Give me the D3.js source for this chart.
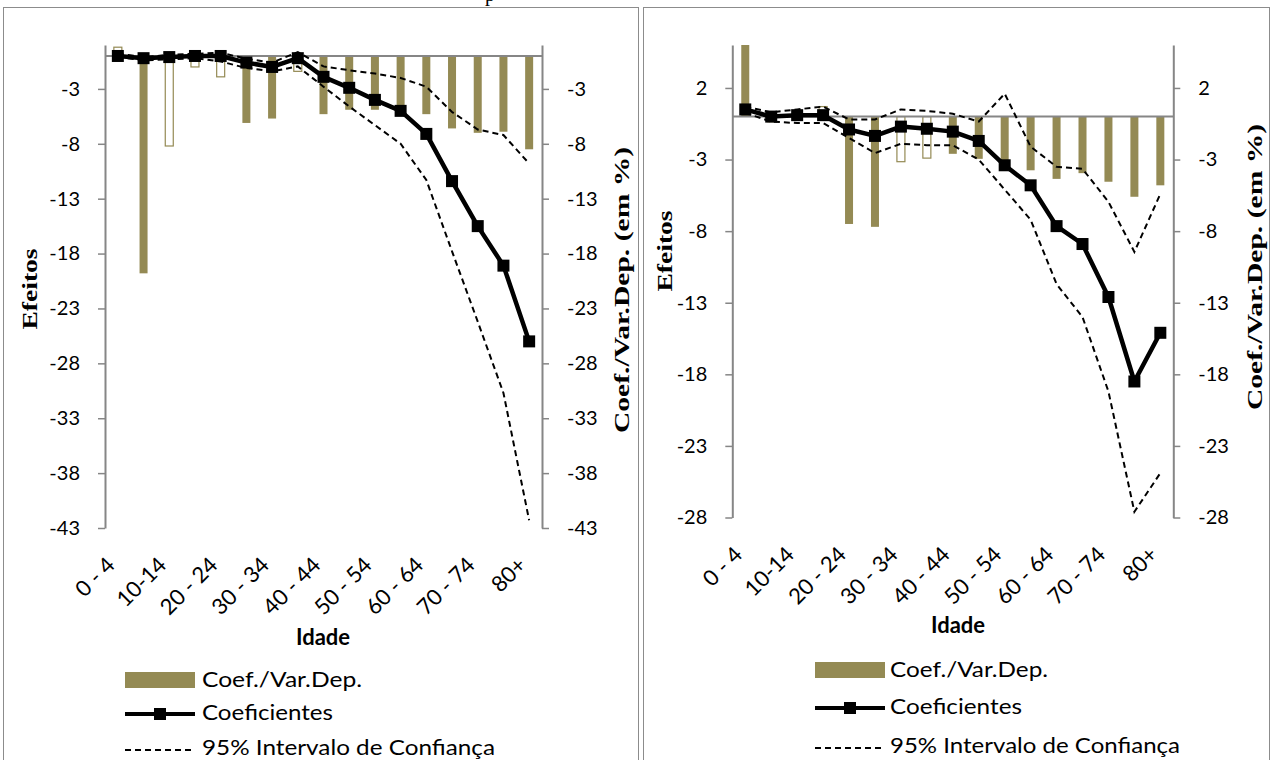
<!DOCTYPE html>
<html><head><meta charset="utf-8">
<script src="https://cdn.jsdelivr.net/npm/d3@7"></script>
<style>body{margin:0;background:#fff} svg{display:block}</style>
</head><body>
<svg id="chart" width="1273" height="760"></svg>
<script>
// Age groups (every other label is shown on the axis)
const ageGroups = ["0 - 4","5 - 9","10-14","15 - 19","20 - 24","25 - 29","30 - 34","35 - 39","40 - 44","45 - 49","50 - 54","55 - 59","60 - 64","65 - 69","70 - 74","75 - 79","80+"];
const ticksA = [-43,-38,-33,-28,-23,-18,-13,-8,-3];
const ticksB = [-28,-23,-18,-13,-8,-3,2];

// Panel A
const ratioA  = [0.8,-19.8,-8.2,-1.0,-1.9,-6.1,-5.7,-1.4,-5.3,-4.9,-4.9,-5.1,-5.3,-6.6,-7.0,-6.9,-8.5];
const sigA    = [false,true,false,false,false,true,true,false,true,true,true,true,true,true,true,true,true];
const coefA   = [0.0,-0.2,-0.1,0.0,0.0,-0.6,-1.0,-0.2,-1.9,-2.9,-4.0,-5.0,-7.1,-11.4,-15.5,-19.1,-26.0];
const upperA  = [0.2,-0.1,0.1,0.2,0.3,-0.25,-0.6,0.35,-0.95,-1.3,-1.6,-2.0,-2.8,-5.1,-6.7,-7.2,-9.8];
const lowerA  = [-0.1,-0.4,-0.3,-0.2,-0.5,-1.1,-1.4,-0.95,-2.8,-4.6,-6.3,-8.0,-11.3,-17.8,-24.2,-30.7,-42.3];

// Panel B
const ratioB  = [7.0,-0.4,-0.3,0.7,-7.5,-7.7,-3.15,-2.9,-2.6,-2.95,-3.5,-3.75,-4.35,-3.95,-4.55,-5.6,-4.8];
const sigB    = [true,true,true,false,true,true,false,false,true,true,true,true,true,true,true,true,true];
const coefB   = [0.5,0.0,0.1,0.1,-0.9,-1.35,-0.7,-0.85,-1.05,-1.7,-3.4,-4.8,-7.65,-8.9,-12.6,-18.5,-15.1];
const upperB  = [0.7,0.3,0.5,0.7,-0.2,-0.2,0.5,0.4,0.2,-0.35,1.6,-2.1,-3.5,-3.65,-5.95,-9.45,-5.4];
const lowerB  = [0.25,-0.35,-0.45,-0.45,-1.5,-2.55,-1.9,-2.0,-2.0,-3.0,-5.1,-7.2,-11.7,-14.0,-19.2,-27.6,-24.9];

const legendLabels = ["Coef./Var.Dep.", "Coeficientes", "95% Intervalo de Confiança"];

const OLIVE = "#948A54", AXIS = "#868686";
const sans = "Lato, 'Open Sans', sans-serif";
const serif = "'Liberation Serif', serif";
const svg = d3.select("#chart");

// Cut-off line of text above the panels
svg.append("text").attr("x", 485).attr("y", 1)
  .attr("font-family", serif).attr("font-size", 20).text("p");

function panel(cfg) {
  const g = svg.append("g");
  // frame
  g.append("rect").attr("x", cfg.fx).attr("y", 7.5).attr("width", cfg.fw).attr("height", 800)
    .attr("fill", "none").attr("stroke", "#8c8c8c").attr("stroke-width", 1);

  const x = d3.scaleBand().domain(ageGroups).range([cfg.x0, cfg.x1]).padding(0);
  const y = d3.scaleLinear().domain(cfg.domain).range([cfg.yBot, cfg.yTop]);
  const cx = d => x(d) + x.bandwidth() / 2;

  const clipId = "clip" + cfg.id;
  svg.append("clipPath").attr("id", clipId).append("rect")
    .attr("x", cfg.x0).attr("y", cfg.yTop).attr("width", cfg.x1 - cfg.x0).attr("height", cfg.yBot - cfg.yTop);

  // bars (secondary axis, same scale as the primary one)
  const bw = 8;
  g.append("g").attr("clip-path", `url(#${clipId})`).selectAll("rect")
    .data(ageGroups.map((a, i) => ({a, v: cfg.ratio[i], s: cfg.sig[i]})))
    .join("rect")
    .attr("x", d => cx(d.a) - bw / 2)
    .attr("y", d => y(Math.max(0, d.v)))
    .attr("width", bw)
    .attr("height", d => Math.abs(y(d.v) - y(0)))
    .attr("fill", d => d.s ? OLIVE : "#fff")
    .attr("stroke", d => d.s ? "none" : OLIVE)
    .attr("stroke-width", 1.2);

  // zero line
  g.append("line").attr("x1", cfg.x0).attr("x2", cfg.x1).attr("y1", y(0)).attr("y2", y(0))
    .attr("stroke", AXIS).attr("stroke-width", 2);

  // value axes
  const styleAxis = sel => {
    sel.select(".domain").attr("stroke", AXIS).attr("stroke-width", 2);
    sel.selectAll(".tick line").attr("stroke", AXIS).attr("stroke-width", 1.5);
    sel.selectAll(".tick text").attr("font-family", sans).attr("font-size", 20).attr("fill", "#000");
  };
  const fmt = d => String(d);
  g.append("g").attr("transform", `translate(${cfg.x0},0)`)
    .call(d3.axisLeft(y).tickValues(cfg.ticks).tickSize(7).tickSizeOuter(0).tickPadding(18).tickFormat(fmt))
    .call(styleAxis);
  g.append("g").attr("transform", `translate(${cfg.x1},0)`)
    .call(d3.axisRight(y).tickValues(cfg.ticks).tickSize(7).tickSizeOuter(0).tickPadding(18).tickFormat(fmt))
    .call(styleAxis);

  // category labels
  const catAxis = g.append("g").attr("transform", `translate(0,${cfg.yBot})`)
    .call(d3.axisBottom(x).tickValues(ageGroups.filter((d, i) => i % 2 === 0)).tickSize(0).tickPadding(0));
  catAxis.select(".domain").remove();
  catAxis.selectAll(".tick text")
    .attr("font-family", sans).attr("font-size", 22).attr("fill", "#000")
    .attr("text-anchor", "end").attr("dy", "0.35em")
    .attr("transform", "translate(-7,33) rotate(-45)");

  // confidence interval
  const line = d3.line().x((d, i) => cx(ageGroups[i])).y(d => y(d));
  [cfg.upper, cfg.lower].forEach(s => {
    g.append("path").datum(s).attr("d", line).attr("fill", "none")
      .attr("stroke", "#000").attr("stroke-width", 2).attr("stroke-dasharray", "6,4");
  });
  // coefficients
  g.append("path").datum(cfg.coef).attr("d", line).attr("fill", "none")
    .attr("stroke", "#000").attr("stroke-width", 4.5).attr("stroke-linejoin", "round");
  g.append("g").selectAll("rect").data(cfg.coef).join("rect")
    .attr("x", (d, i) => cx(ageGroups[i]) - 6).attr("y", d => y(d) - 6)
    .attr("width", 12).attr("height", 12).attr("fill", "#000");

  // axis titles
  g.append("text").attr("font-family", sans).attr("font-weight", "bold").attr("font-size", 22)
    .attr("text-anchor", "middle").attr("x", cfg.idadeX).attr("y", cfg.idadeY).text("Idade");
  g.append("text").attr("font-family", serif).attr("font-weight", "bold").attr("font-size", 20)
    .attr("text-anchor", "middle")
    .attr("transform", `translate(${cfg.leftTitle[0]},${cfg.leftTitle[1]}) rotate(-90) scale(1.38,1)`)
    .text("Efeitos");
  g.append("text").attr("font-family", serif).attr("font-weight", "bold").attr("font-size", 20)
    .attr("text-anchor", "middle")
    .attr("transform", `translate(${cfg.rightTitle[0]},${cfg.rightTitle[1]}) rotate(-90) scale(1.48,1)`)
    .text("Coef./Var.Dep. (em %)");

  // legend
  const L = cfg.legend;
  const lg = g.append("g").attr("transform", `translate(${L.x},0)`);
  lg.append("rect").attr("x", 0).attr("y", L.rows[0] - 8).attr("width", 70).attr("height", 16).attr("fill", OLIVE);
  lg.append("line").attr("x1", 0).attr("x2", 70).attr("y1", L.rows[1]).attr("y2", L.rows[1]).attr("stroke", "#000").attr("stroke-width", 4);
  lg.append("rect").attr("x", 29).attr("y", L.rows[1] - 6).attr("width", 12).attr("height", 12).attr("fill", "#000");
  lg.append("line").attr("x1", 0).attr("x2", 70).attr("y1", L.rows[2]).attr("y2", L.rows[2]).attr("stroke", "#000").attr("stroke-width", 2).attr("stroke-dasharray", "6,4");
  legendLabels.forEach((t, i) => lg.append("text").attr("x", L.tx).attr("y", L.rows[i] + L.base[i])
    .attr("font-family", sans).attr("font-size", 21)
    .attr("textLength", L.widths[i]).attr("lengthAdjust", "spacingAndGlyphs").text(t));
}

panel({id: "A", fx: 3.5, fw: 635, x0: 105, x1: 542, yTop: 45, yBot: 528, domain: [-43, 1], ticks: ticksA,
  ratio: ratioA, sig: sigA, coef: coefA, upper: upperA, lower: lowerA,
  idadeX: 323, idadeY: 645, leftTitle: [37, 289], rightTitle: [629, 290],
  legend: {x: 125, tx: 77, rows: [680, 714, 750], base: [7, 6, 5], widths: [160, 131, 293]}});
panel({id: "B", fx: 643.5, fw: 626, x0: 732.3, x1: 1173.3, yTop: 45, yBot: 517.5, domain: [-28, 5], ticks: ticksB,
  ratio: ratioB, sig: sigB, coef: coefB, upper: upperB, lower: lowerB,
  idadeX: 958, idadeY: 633, leftTitle: [672, 251], rightTitle: [1262, 267],
  legend: {x: 815, tx: 75, rows: [670, 708, 748], base: [7, 6, 5], widths: [158, 132, 290]}});
</script>
</body></html>
